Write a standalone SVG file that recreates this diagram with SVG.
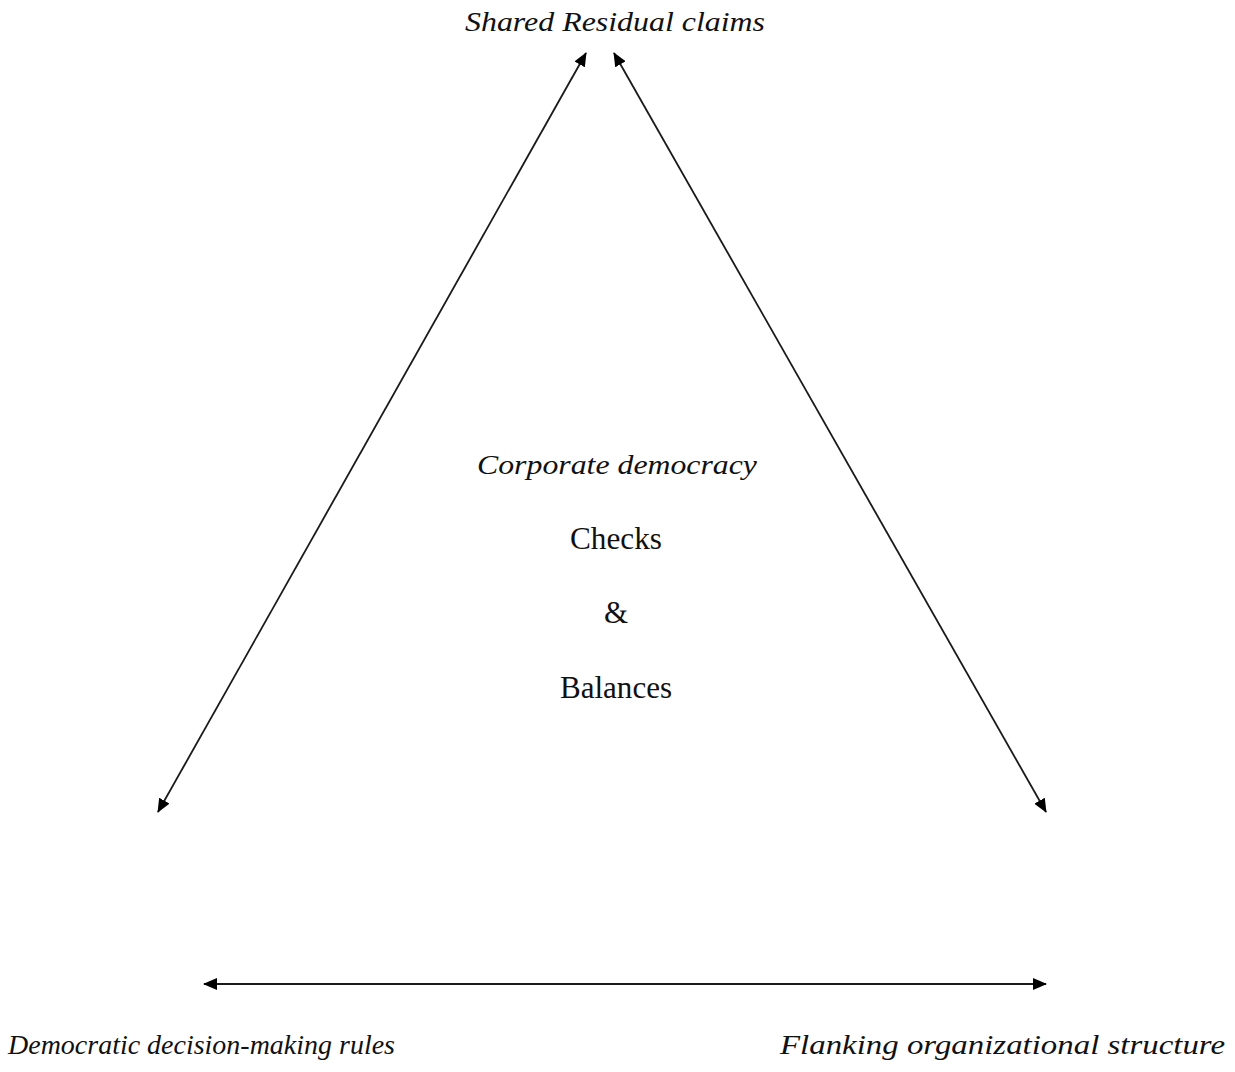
<svg xmlns="http://www.w3.org/2000/svg" width="1235" height="1072" viewBox="0 0 1235 1072">
  <style>
    .lbl { font-family: "Liberation Serif", "DejaVu Serif", serif; fill: #111; }
    .it { font-style: italic; font-size: 28px; }
    .rm { font-size: 31px; }
    .conn { stroke: #1a1a1a; stroke-width: 1.8; fill: none; marker-start: url(#head); marker-end: url(#head); }
  </style>
  <defs>
    <marker id="head" viewBox="0 0 14 12" refX="13" refY="6" markerWidth="14" markerHeight="12" markerUnits="userSpaceOnUse" orient="auto-start-reverse">
      <path d="M0,0 L14,6 L0,12 Z" fill="#000"/>
    </marker>
  </defs>
  <rect width="1235" height="1072" fill="#fff"/>

  <g id="connectors">
    <line class="conn" x1="158" y1="812" x2="586" y2="53"/>
    <line class="conn" x1="1046" y1="812" x2="614" y2="53"/>
    <line class="conn" x1="204" y1="984" x2="1046" y2="984"/>
  </g>

  <g id="node-shared-residual-claims">
    <text class="lbl it" x="615" y="31" text-anchor="middle" textLength="300" lengthAdjust="spacingAndGlyphs">Shared Residual claims</text>
  </g>

  <g id="node-center">
    <text class="lbl it" x="617" y="474" text-anchor="middle" textLength="280" lengthAdjust="spacingAndGlyphs">Corporate democracy</text>
    <text class="lbl rm" x="616" y="549" text-anchor="middle" textLength="92" lengthAdjust="spacingAndGlyphs">Checks</text>
    <text class="lbl rm" x="616" y="623" text-anchor="middle">&amp;</text>
    <text class="lbl rm" x="616" y="698" text-anchor="middle" textLength="112" lengthAdjust="spacingAndGlyphs">Balances</text>
  </g>

  <g id="node-democratic-rules">
    <text class="lbl it" x="8" y="1054" textLength="387" lengthAdjust="spacingAndGlyphs">Democratic decision-making rules</text>
  </g>

  <g id="node-flanking-structure">
    <text class="lbl it" x="780" y="1054" textLength="445" lengthAdjust="spacingAndGlyphs">Flanking  organizational  structure</text>
  </g>
</svg>
